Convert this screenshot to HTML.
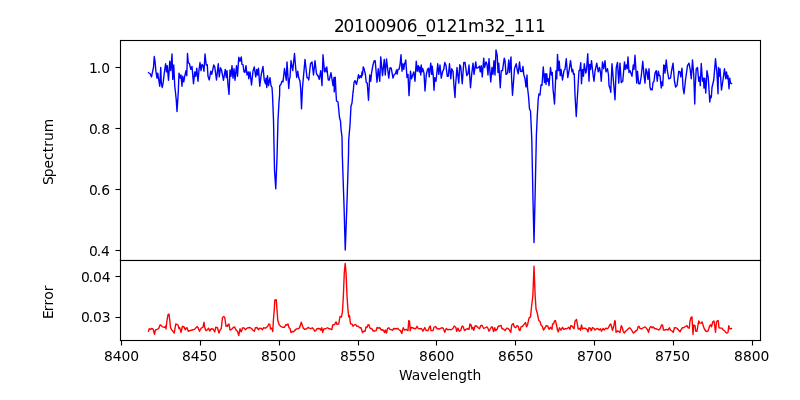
<!DOCTYPE html>
<html lang="en"><head><meta charset="utf-8"><title>20100906_0121m32_111</title>
<style>html,body{margin:0;padding:0;background:#fff;}body{width:800px;height:400px;overflow:hidden;}svg{display:block;}text{font-family:"DejaVu Sans","Liberation Sans",sans-serif;fill:#000;white-space:pre;}.tx{filter:grayscale(1);}.ln{fill:none;stroke-width:1.389;stroke-linejoin:round;stroke-linecap:square;}</style></head><body>
<svg width="800" height="400" viewBox="0 0 800 400">
<rect x="0" y="0" width="800" height="400" fill="#fff"/>
<defs><clipPath id="c1"><rect x="120" y="40" width="640" height="220"/></clipPath><clipPath id="c2"><rect x="120" y="260" width="640" height="80"/></clipPath></defs>
<g clip-path="url(#c1)"><polyline class="ln" stroke="#0000ff" points="148.50,72.75 150.00,73.50 151.50,76.88 152.50,71.88 153.50,67.50 154.25,56.50 155.00,61.25 156.00,71.88 157.00,78.12 157.75,73.12 158.75,80.00 159.75,86.25 160.75,67.50 161.25,82.50 162.25,87.50 163.25,81.88 164.50,71.25 165.62,63.75 166.50,71.88 167.25,65.62 168.50,80.25 169.75,61.25 170.75,70.62 172.00,54.00 172.75,79.38 173.75,65.00 174.75,86.25 175.50,92.50 176.25,100.00 177.00,111.50 177.75,100.00 178.25,92.50 179.00,73.12 180.25,78.12 181.00,75.00 182.00,86.25 182.75,76.25 183.75,81.88 184.75,76.25 186.00,70.62 186.75,75.62 187.50,53.50 188.25,62.50 189.50,63.75 190.75,69.38 192.00,66.50 193.50,83.75 194.75,71.88 195.75,76.25 196.75,68.12 198.00,81.25 199.00,70.00 200.00,62.50 201.00,70.62 202.00,64.38 203.00,65.62 204.00,71.25 205.00,54.00 206.25,65.00 207.25,64.75 208.00,76.25 209.25,80.00 210.75,71.25 211.75,74.38 213.75,65.00 214.75,66.88 216.50,80.00 218.25,63.75 219.25,76.88 220.50,67.75 221.50,70.00 223.50,80.25 225.25,69.38 226.25,77.50 227.00,70.62 228.00,85.00 229.00,94.40 230.00,70.00 231.00,76.25 232.00,65.62 233.00,78.12 234.00,68.75 235.00,80.25 236.50,65.62 237.50,76.25 238.75,57.25 240.00,61.25 241.25,56.88 242.00,64.38 243.00,64.75 244.00,71.88 245.00,72.25 246.00,65.62 247.00,75.00 248.25,71.88 248.75,78.75 250.00,71.88 251.50,85.00 253.00,71.25 254.25,66.88 255.75,76.88 256.75,69.38 257.50,75.00 258.50,68.12 259.75,86.25 261.25,74.38 263.00,66.50 264.25,80.00 265.50,83.75 266.00,78.12 266.75,87.50 267.50,75.62 268.50,85.62 270.00,77.75 271.00,85.62 272.00,87.50 272.50,95.00 273.50,120.00 274.50,170.00 275.75,188.75 277.00,157.50 278.00,120.00 279.00,102.00 279.60,95.00 279.75,85.62 280.75,84.75 282.00,81.25 283.00,81.88 284.50,68.50 286.25,80.25 287.00,61.88 288.75,88.50 289.50,78.75 290.00,77.75 291.00,60.62 292.75,70.62 294.50,53.50 295.75,68.75 296.75,77.50 297.75,71.25 298.75,77.75 300.00,81.25 300.75,90.00 301.50,108.75 302.50,87.50 305.00,59.38 307.00,77.75 308.00,77.75 308.75,80.00 310.50,63.75 312.00,61.88 313.50,75.00 315.00,60.62 316.50,73.75 318.25,76.25 319.25,79.38 320.75,70.62 322.00,85.62 323.00,54.75 324.50,71.88 325.50,68.12 326.25,71.88 326.75,66.88 328.25,80.00 329.25,80.00 331.00,72.75 333.00,85.62 334.00,77.50 334.25,91.88 335.25,77.25 336.00,93.12 336.50,101.00 338.00,102.00 339.50,117.50 340.50,121.00 341.00,129.00 342.00,137.00 342.30,155.00 344.00,205.00 345.25,250.00 346.90,205.00 348.50,155.00 348.70,140.00 350.00,125.00 351.00,106.00 352.00,103.00 353.00,92.50 353.25,91.25 354.00,82.50 355.00,80.62 356.50,84.38 357.50,80.00 358.50,74.75 359.50,78.12 360.50,75.62 361.50,77.50 362.00,71.88 362.50,75.00 363.25,66.88 364.25,69.38 365.50,75.00 366.25,82.50 367.25,83.12 368.50,100.25 369.75,75.00 370.75,81.25 371.50,73.12 373.00,65.00 374.25,60.62 375.25,61.00 377.00,82.25 378.25,68.75 379.75,81.25 380.75,56.88 382.50,75.62 384.25,59.38 385.25,75.00 386.50,59.00 388.75,78.12 390.00,67.75 391.25,68.12 393.00,78.12 394.25,74.38 395.50,73.75 396.50,70.00 397.25,74.00 398.00,69.38 399.00,69.38 400.00,65.00 401.00,54.75 402.00,71.25 403.00,63.75 403.75,69.38 404.50,64.38 405.75,60.00 407.00,77.50 408.00,74.38 409.00,95.60 410.50,71.25 411.50,78.75 412.50,75.62 413.75,71.88 415.00,81.25 416.25,61.25 417.25,71.25 418.25,65.62 419.25,71.88 419.75,66.88 420.75,75.00 421.25,65.00 422.00,71.88 422.75,68.50 424.00,73.12 425.00,91.00 426.25,75.00 427.50,69.38 428.50,68.12 429.25,76.88 430.75,63.12 431.75,74.38 432.25,66.25 433.25,75.62 434.00,90.25 434.75,77.75 436.00,81.25 437.75,63.75 438.75,74.38 440.00,65.00 441.25,78.12 442.75,71.25 443.75,69.38 444.75,62.50 446.00,65.62 447.25,76.25 448.25,76.25 449.50,63.75 450.75,78.75 451.75,68.75 453.00,71.25 454.00,86.25 455.00,97.50 455.50,86.25 457.00,67.50 458.75,83.12 459.75,64.75 460.75,66.88 462.25,83.75 463.75,62.50 465.00,62.50 465.75,67.50 466.75,75.62 468.00,73.75 469.00,65.00 470.50,87.75 471.75,73.75 473.00,63.12 474.00,74.38 475.75,61.88 476.50,68.12 478.00,67.75 479.50,66.25 480.25,71.88 481.25,65.62 482.25,76.88 483.75,58.12 484.50,67.50 486.00,61.88 487.00,64.38 488.00,75.00 489.00,58.75 490.75,81.88 492.00,67.50 493.00,74.38 494.00,60.62 495.00,75.00 496.00,50.00 497.25,55.62 498.00,72.50 498.75,63.12 500.25,87.75 501.25,70.62 502.50,70.62 504.25,58.12 505.00,60.62 506.00,74.38 507.50,73.12 508.75,60.00 509.50,72.50 511.00,56.88 511.50,76.25 512.50,95.25 514.50,68.75 516.25,63.75 517.25,70.00 518.25,73.75 519.50,61.88 520.50,71.25 522.00,71.50 523.00,66.50 523.75,74.38 525.00,78.75 526.00,86.88 527.00,75.00 527.50,87.50 528.50,96.00 529.50,109.00 530.50,111.00 531.20,126.00 531.80,140.00 533.00,200.00 534.00,242.50 535.00,200.00 536.40,135.00 537.25,116.00 538.25,99.00 538.90,94.00 540.00,95.00 541.00,85.00 542.00,85.25 543.25,66.88 544.50,82.50 545.25,73.75 546.00,84.38 546.75,73.75 547.50,81.25 548.25,78.75 549.00,85.62 550.50,67.50 551.50,75.00 552.25,72.50 553.00,88.75 554.50,104.00 556.00,70.62 556.75,78.75 557.50,54.38 558.50,70.62 559.25,61.25 560.25,75.62 561.00,69.38 562.50,80.00 564.00,70.62 565.00,69.38 566.25,58.75 567.75,77.50 569.25,69.38 570.50,60.62 572.00,71.88 572.75,69.38 573.50,74.38 574.25,73.75 575.00,95.00 576.25,116.50 577.50,95.00 579.00,70.62 579.75,70.62 580.75,62.75 581.50,83.75 582.50,69.38 583.50,76.25 584.25,63.75 585.75,73.12 586.50,70.00 587.75,53.75 589.00,81.25 589.75,64.38 590.50,69.38 591.50,60.62 593.00,74.38 594.00,81.25 595.00,71.25 596.75,63.12 598.25,71.88 599.50,67.50 600.50,72.50 601.25,81.25 602.50,61.88 603.75,68.75 605.00,60.62 606.00,71.88 607.50,68.75 608.50,75.00 609.00,85.62 610.00,88.12 610.75,92.25 612.00,63.75 613.25,78.75 615.00,99.75 616.25,67.50 617.50,62.50 618.75,83.12 620.00,63.12 621.25,82.50 622.75,81.25 624.50,61.88 625.25,69.38 626.25,65.00 627.25,68.75 628.00,56.88 629.00,72.50 630.00,70.62 632.00,76.25 633.25,65.00 634.00,69.38 635.00,55.25 636.75,83.12 637.50,71.25 638.75,83.75 640.00,83.75 641.25,76.25 642.75,61.25 644.00,75.00 645.00,83.12 646.00,68.75 647.00,71.88 648.00,79.38 649.00,68.75 650.00,86.88 650.75,89.75 651.50,88.90 652.25,89.75 653.00,82.50 654.00,81.25 655.00,73.12 656.25,70.62 657.25,81.25 658.25,71.25 659.25,75.62 660.00,75.62 661.25,88.00 662.00,81.88 662.75,85.62 663.75,65.00 664.50,65.62 665.00,73.12 666.25,60.00 667.25,70.00 668.75,78.75 670.50,78.12 671.50,71.25 673.00,63.12 674.50,81.25 675.60,87.00 677.00,85.62 678.75,71.25 680.00,71.88 680.75,76.88 682.00,68.12 683.00,87.50 684.00,93.75 685.50,80.00 687.50,65.62 689.00,63.12 690.25,70.00 691.25,78.75 692.50,60.00 693.75,75.00 694.75,104.00 695.25,86.25 696.25,68.75 697.50,67.50 698.75,81.25 699.75,76.88 700.25,85.62 701.25,63.50 702.50,81.25 703.50,78.12 704.00,88.12 704.75,78.12 705.75,93.00 707.00,70.62 708.25,77.50 709.75,102.00 710.60,96.00 711.30,97.50 712.00,87.50 713.75,80.00 715.50,58.75 717.00,73.75 718.00,93.75 718.50,67.50 719.25,76.25 720.00,68.75 721.50,90.00 723.00,80.00 724.50,68.75 725.75,78.75 726.50,71.88 727.50,78.75 728.00,75.62 729.00,88.75 729.75,78.12 730.50,83.12 731.50,83.50"/></g>
<rect x="119.9445" y="39.9445" width="1.1110" height="221.1110"/><rect x="759.9445" y="39.9445" width="1.1110" height="221.1110"/><rect x="119.9445" y="259.9445" width="641.1110" height="1.1110"/><rect x="119.9445" y="39.9445" width="641.1110" height="1.1110"/>
<rect x="115.5" y="66.9445" width="5" height="1.111"/>
<rect x="115.5" y="127.9445" width="5" height="1.111"/>
<rect x="115.5" y="188.9445" width="5" height="1.111"/>
<rect x="115.5" y="249.9445" width="5" height="1.111"/>
<rect x="120" y="260" width="640" height="80" fill="#fff"/>
<g clip-path="url(#c2)"><polyline class="ln" stroke="#ff0000" points="148.50,331.25 149.25,328.75 150.50,329.38 151.50,328.50 153.00,329.00 153.75,331.25 154.50,334.38 155.50,330.00 157.00,329.38 158.75,328.50 160.00,325.00 161.00,325.25 162.50,326.88 164.50,327.25 165.50,326.25 166.00,329.00 166.75,321.88 168.00,314.75 169.00,314.00 169.75,320.00 170.50,327.50 171.75,330.00 173.00,331.25 174.25,333.12 175.75,324.00 176.75,324.38 178.00,325.00 179.00,328.50 179.75,327.75 181.00,332.25 182.50,326.25 184.00,326.88 185.25,329.75 186.00,328.12 187.00,327.75 188.25,331.25 189.75,330.62 192.00,330.00 194.50,329.38 196.00,327.75 197.25,326.50 198.25,328.12 199.50,331.25 201.25,328.12 203.00,327.25 204.00,322.25 204.75,327.75 206.00,330.62 207.50,329.75 208.50,328.12 209.75,331.00 211.25,328.75 213.00,329.00 214.75,331.88 215.75,327.25 217.50,327.75 219.00,333.12 220.00,330.00 221.25,328.75 222.50,317.50 223.75,316.50 224.75,317.50 226.00,326.25 227.00,325.62 227.50,326.25 228.25,324.38 229.00,324.00 230.00,330.00 231.50,329.38 233.00,327.75 234.50,326.88 236.00,330.00 237.50,331.25 238.75,335.62 240.00,328.75 241.25,331.88 242.75,327.75 244.25,328.12 245.50,329.75 247.00,328.12 248.25,327.75 250.00,327.50 251.50,328.50 253.00,330.25 254.25,331.25 255.50,327.75 257.00,327.50 258.50,329.75 259.75,328.12 261.25,328.50 262.50,329.75 263.50,327.75 265.00,328.12 266.50,327.50 267.75,326.25 268.75,324.00 269.75,324.38 270.50,329.00 271.75,328.12 272.75,331.50 273.50,318.75 274.25,310.00 274.75,300.25 276.25,299.75 277.00,310.00 277.75,320.00 279.00,324.38 280.50,326.25 282.50,327.25 284.50,327.25 285.75,324.75 287.00,325.00 288.00,324.00 289.00,327.75 290.00,328.50 291.00,332.50 292.25,331.50 293.50,331.88 294.50,330.62 296.25,329.00 297.75,328.75 299.25,328.12 300.25,325.62 301.25,322.25 302.25,325.00 303.25,328.12 304.75,329.38 306.25,329.00 308.00,327.50 309.50,328.12 310.75,328.75 312.25,327.75 313.50,329.00 314.75,331.25 315.75,330.62 317.00,328.75 318.50,328.50 320.00,328.75 321.00,330.25 321.75,327.75 322.75,332.25 323.75,329.00 325.50,328.75 327.50,327.75 329.00,328.75 330.50,329.00 331.75,329.75 332.75,325.00 334.00,324.75 335.00,324.00 336.00,321.88 337.00,324.38 338.75,324.00 340.00,316.50 341.50,317.00 342.50,311.00 343.38,295.54 344.28,273.02 345.18,263.56 346.08,273.02 346.98,295.54 347.88,309.05 348.78,316.94 349.50,315.62 350.50,323.75 352.00,324.00 353.00,326.25 354.25,325.00 355.50,324.38 357.00,326.25 358.25,326.25 359.75,327.75 361.00,327.75 362.50,332.50 363.75,331.25 365.00,331.25 366.00,326.88 367.00,327.50 368.00,324.75 369.00,325.00 370.00,328.12 371.75,328.75 373.25,331.00 375.00,331.00 376.25,330.62 377.00,327.50 378.50,328.12 379.75,327.75 381.25,330.00 383.00,329.75 384.50,332.50 385.25,330.00 386.50,333.12 387.50,328.50 388.75,327.75 390.00,329.38 391.50,329.75 392.50,330.25 393.75,328.50 395.75,328.75 397.75,328.50 399.00,329.75 400.50,330.62 401.75,333.50 403.25,327.75 404.50,330.00 406.25,329.38 408.00,330.62 408.75,320.62 409.50,321.00 410.25,330.62 411.00,327.50 412.50,327.75 414.25,328.50 415.75,328.75 417.00,326.25 418.25,328.50 420.00,328.75 421.50,328.50 423.00,331.25 424.75,327.50 426.25,330.62 428.00,330.62 429.50,326.88 430.25,326.00 431.00,330.62 433.00,330.62 434.00,327.25 435.50,326.50 437.00,328.50 438.75,329.00 440.00,328.75 441.50,327.75 443.25,328.12 444.75,332.25 446.25,328.50 447.75,329.75 449.50,329.38 451.25,329.75 453.00,328.50 454.25,326.00 455.75,327.25 456.75,331.25 458.00,328.12 459.25,331.25 460.75,330.25 462.00,326.25 463.00,326.25 464.50,330.62 466.00,329.38 467.50,328.75 469.00,329.38 470.00,324.00 471.00,324.75 472.00,329.00 473.00,327.25 473.75,330.25 475.25,325.62 476.75,326.25 478.25,327.75 479.50,328.75 480.75,325.62 482.00,325.25 483.75,328.50 485.25,327.75 487.00,326.88 488.00,328.50 489.00,331.25 490.25,329.00 491.50,326.88 492.50,327.25 493.50,331.50 494.75,327.75 495.50,330.62 497.00,329.38 498.25,326.25 499.75,326.00 501.00,325.25 502.00,328.75 503.50,329.00 505.00,330.62 506.75,328.12 508.00,328.50 509.50,330.00 510.75,332.50 511.75,325.00 513.25,323.50 514.25,326.88 515.75,327.75 517.00,325.62 518.25,326.25 519.25,330.25 520.00,330.62 521.00,326.88 522.50,326.25 524.00,324.38 525.50,322.50 526.50,326.88 527.50,325.00 529.00,318.12 530.50,316.88 531.53,306.80 532.88,295.54 533.56,277.52 534.01,266.26 534.46,277.52 535.14,295.54 536.04,309.05 537.39,313.56 538.74,320.32 540.00,321.50 541.00,325.00 542.25,326.25 543.50,330.00 545.00,327.75 546.25,325.62 547.75,326.00 549.00,329.38 550.50,327.25 552.00,329.38 552.50,324.00 553.50,324.00 554.50,321.00 555.50,320.62 556.50,325.00 557.50,330.00 558.25,331.88 559.50,327.75 561.00,330.25 562.50,327.25 563.75,329.38 565.50,328.75 567.25,328.50 568.75,327.25 570.00,329.38 570.75,325.62 572.25,326.25 574.00,328.75 575.00,321.25 576.50,319.38 577.50,325.00 578.25,329.00 579.75,328.50 580.50,330.25 581.50,325.00 582.50,329.00 584.00,328.12 585.75,328.50 587.00,329.38 588.00,331.88 589.00,327.75 590.25,328.12 591.25,330.62 592.50,327.50 594.00,328.50 595.00,330.00 596.50,328.75 597.75,328.50 599.25,330.00 600.50,328.75 601.50,331.25 603.00,328.50 604.25,330.00 605.75,328.12 607.25,328.75 608.50,327.75 609.75,324.75 610.75,324.00 611.75,327.50 612.50,330.25 613.75,326.25 614.75,320.62 615.25,321.25 616.00,332.25 617.25,331.00 618.75,331.50 620.00,332.50 621.25,325.62 622.25,327.50 623.25,331.50 624.25,333.12 625.50,331.25 627.00,330.00 628.25,328.75 629.50,327.75 630.75,328.75 632.25,331.25 633.50,333.12 634.75,331.88 636.25,330.62 637.25,330.00 638.00,326.88 639.00,326.25 640.00,328.50 641.75,328.75 643.25,327.75 645.00,326.88 646.25,328.12 647.50,329.75 648.50,332.25 649.75,327.75 651.00,326.50 652.25,327.75 653.25,326.88 654.50,328.50 656.00,328.75 657.50,329.38 658.75,330.00 660.25,328.50 661.50,325.00 662.50,325.00 663.50,330.00 665.00,330.00 666.50,329.38 668.00,330.00 669.50,327.75 670.50,330.25 672.00,331.00 673.25,332.25 674.50,327.75 676.00,327.75 677.25,328.50 678.50,330.00 680.00,331.88 681.25,329.38 682.50,327.75 684.00,327.50 685.25,326.50 687.00,325.62 688.00,327.75 689.25,328.12 690.00,321.25 691.00,317.50 692.00,316.88 692.50,326.25 693.00,334.38 693.75,325.00 695.00,325.62 695.75,331.25 697.00,331.25 698.00,325.00 698.75,321.00 699.75,323.12 701.25,323.12 702.00,321.88 703.00,325.00 704.25,328.75 705.75,331.00 707.00,331.50 708.25,330.62 709.50,326.25 710.75,324.75 711.50,326.88 712.75,321.88 714.00,321.00 714.75,326.25 715.50,332.25 716.50,321.88 717.50,320.62 718.25,320.62 719.00,327.75 720.50,328.12 722.00,328.12 723.25,330.00 724.50,330.62 725.50,332.25 726.75,333.12 728.00,332.50 728.75,325.62 729.50,328.50 730.50,328.75 731.50,328.50"/></g>
<rect x="119.9445" y="259.9445" width="1.1110" height="81.1110"/><rect x="759.9445" y="259.9445" width="1.1110" height="81.1110"/><rect x="119.9445" y="339.9445" width="641.1110" height="1.1110"/><rect x="119.9445" y="259.9445" width="641.1110" height="1.1110"/>
<rect x="115.5" y="275.9445" width="5" height="1.111"/>
<rect x="115.5" y="316.9445" width="5" height="1.111"/>
<rect x="120.9445" y="340.5" width="1.111" height="5"/>
<rect x="199.9445" y="340.5" width="1.111" height="5"/>
<rect x="278.9445" y="340.5" width="1.111" height="5"/>
<rect x="357.9445" y="340.5" width="1.111" height="5"/>
<rect x="435.9445" y="340.5" width="1.111" height="5"/>
<rect x="514.9445" y="340.5" width="1.111" height="5"/>
<rect x="593.9445" y="340.5" width="1.111" height="5"/>
<rect x="672.9445" y="340.5" width="1.111" height="5"/>
<rect x="751.9445" y="340.5" width="1.111" height="5"/>
<g class="tx">
<text font-size="13.889" x="88.930 96.680 101.055" y="256">0.4</text>
<text font-size="13.889" x="89.055 96.805 101.180" y="195">0.6</text>
<text font-size="13.889" x="89.055 96.805 101.180" y="134">0.8</text>
<text font-size="13.889" x="88.930 96.805 101.180" y="73">1.0</text>
<text font-size="13.889" transform="translate(53,185.000) rotate(-90)" x="-0.070 7.680 16.555 25.055 32.680 38.180 43.930 52.680" y="0">Spectrum</text>
<text font-size="16.900" x="333.930 343.555 354.055 364.680 375.180 385.680 396.180 406.680 417.180 425.555 436.055 446.680 457.305 467.930 484.180 494.805 505.430 513.805 524.430 535.055" y="32">20100906_0121m32_111</text>
<text font-size="13.889" x="103.930 112.805 121.555 130.305" y="361">8400</text>
<text font-size="13.889" x="181.930 190.805 199.555 208.305" y="361">8450</text>
<text font-size="13.889" x="260.930 269.805 278.555 287.305" y="361">8500</text>
<text font-size="13.889" x="339.930 348.805 357.555 366.305" y="361">8550</text>
<text font-size="13.889" x="419.055 427.930 436.805 445.555" y="361">8600</text>
<text font-size="13.889" x="498.055 506.930 515.805 524.555" y="361">8650</text>
<text font-size="13.889" x="576.930 585.805 594.555 603.305" y="361">8700</text>
<text font-size="13.889" x="654.930 663.805 672.555 681.305" y="361">8750</text>
<text font-size="13.889" x="734.055 742.930 751.805 760.555" y="361">8800</text>
<text font-size="13.889" x="398.930 411.680 420.305 428.555 437.055 440.930 449.430 458.180 467.055 472.555" y="380">Wavelength</text>
<text font-size="13.889" x="80.930 88.680 93.055 101.805" y="322">0.03</text>
<text font-size="13.889" x="80.930 88.680 93.055 101.805" y="282">0.04</text>
<text font-size="13.889" transform="translate(53,318.875) rotate(-90)" x="-0.070 7.680 13.430 19.180 27.680" y="0">Error</text>
</g>
</svg></body></html>
